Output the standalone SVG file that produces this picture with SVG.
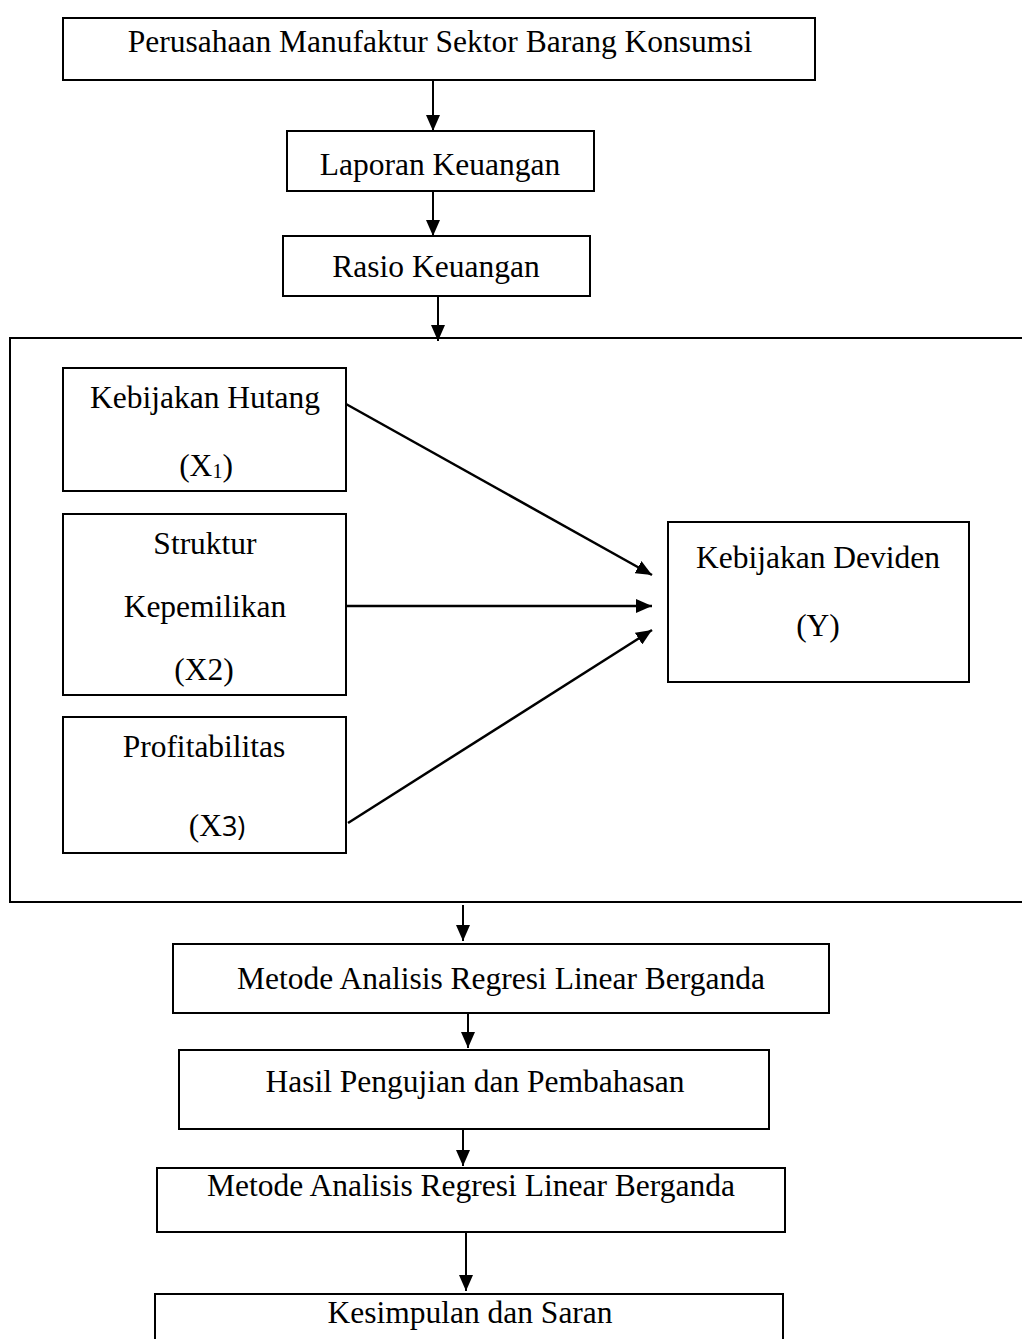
<svg xmlns="http://www.w3.org/2000/svg" width="1022" height="1339" viewBox="0 0 1022 1339">
<style>
.box{fill:#fff;stroke:#000;stroke-width:2}
.t{font-family:"Liberation Serif","Times New Roman",serif;font-size:31.5px;fill:#000;text-anchor:middle}
.c{stroke:#000;stroke-width:2;fill:none;marker-end:url(#ah)}
.d{stroke-width:2.5}
</style>
<defs>
<marker id="ah" viewBox="0 0 16 14" refX="16" refY="7" markerWidth="16" markerHeight="14" markerUnits="userSpaceOnUse" orient="auto">
<path d="M0,0 L16,7 L0,14 Z" fill="#000"/>
</marker>
</defs>
<rect x="0" y="0" width="1022" height="1339" fill="#fff"/>
<g id="container"><rect x="10" y="338" width="1030" height="564" class="box"/></g>
<g id="n1"><rect class="box" x="63" y="18" width="752" height="62"/><text class="t" x="440" y="52">Perusahaan Manufaktur Sektor Barang Konsumsi</text></g>
<g id="n2"><rect class="box" x="287" y="131" width="307" height="60"/><text class="t" x="440" y="175">Laporan Keuangan</text></g>
<g id="n3"><rect class="box" x="283" y="236" width="307" height="60"/><text class="t" x="436" y="277">Rasio Keuangan</text></g>
<g id="x1"><rect class="box" x="63" y="368" width="283" height="123"/><text class="t" x="205" y="408">Kebijakan Hutang</text><text class="t" x="206" y="476">(X<tspan font-size="20" dy="2">1</tspan><tspan dy="-2">)</tspan></text></g>
<g id="x2"><rect class="box" x="63" y="514" width="283" height="181"/><text class="t" x="205" y="554">Struktur</text><text class="t" x="205" y="617">Kepemilikan</text><text class="t" x="204" y="680">(X2)</text></g>
<g id="x3"><rect class="box" x="63" y="717" width="283" height="136"/><text class="t" x="204" y="757">Profitabilitas</text><text class="t" x="217" y="836">(X<tspan font-family="'Open Sans','Noto Sans',sans-serif" font-size="27">3)</tspan></text></g>
<g id="y"><rect class="box" x="668" y="522" width="301" height="160"/><text class="t" x="818" y="568">Kebijakan Deviden</text><text class="t" x="818" y="636">(Y)</text></g>
<g id="n4"><rect class="box" x="173" y="944" width="656" height="69"/><text class="t" x="501" y="989">Metode Analisis Regresi Linear Berganda</text></g>
<g id="n5"><rect class="box" x="179" y="1050" width="590" height="79"/><text class="t" x="475" y="1092">Hasil Pengujian dan Pembahasan</text></g>
<g id="n6"><rect class="box" x="157" y="1168" width="628" height="64"/><text class="t" x="471" y="1196">Metode Analisis Regresi Linear Berganda</text></g>
<g id="n7"><rect class="box" x="155" y="1294" width="628" height="60"/><text class="t" x="470" y="1323">Kesimpulan dan Saran</text></g>
<g id="connectors">
<line class="c" x1="433" y1="81" x2="433" y2="131"/>
<line class="c" x1="433" y1="192" x2="433" y2="236"/>
<line class="c" x1="438" y1="297" x2="438" y2="341"/>
<line class="c d" x1="346" y1="404" x2="652" y2="575"/>
<line class="c d" x1="346" y1="606" x2="652" y2="606"/>
<line class="c d" x1="348" y1="823" x2="652" y2="630"/>
<line class="c" x1="463" y1="905" x2="463" y2="941"/>
<line class="c" x1="468" y1="1014" x2="468" y2="1048"/>
<line class="c" x1="463" y1="1130" x2="463" y2="1166"/>
<line class="c" x1="466" y1="1233" x2="466" y2="1291"/>
</g>
</svg>
